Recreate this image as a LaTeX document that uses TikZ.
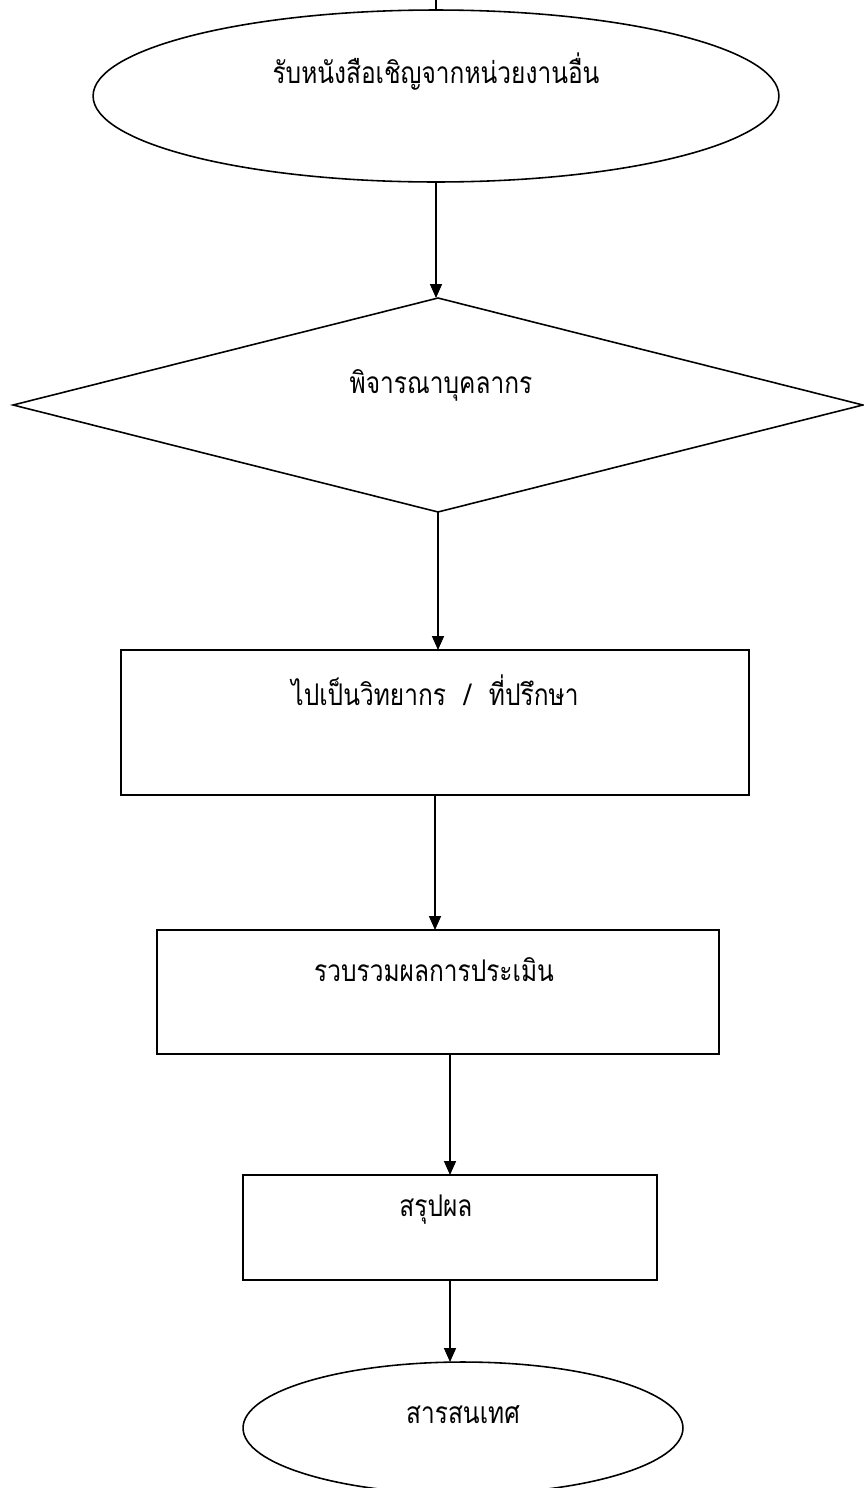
\documentclass[tikz,border=0pt]{standalone}
\usepackage{fontspec}
\newfontfamily\thaifont[Script=Thai,FakeStretch=0.82]{Loma}
\usetikzlibrary{shapes.geometric,arrows.meta,positioning,calc}

\begin{document}
\begin{tikzpicture}[x=0.02cm, y=-0.02cm,
    shapeline/.style={draw, line width=0.9pt, inner sep=0pt, outer sep=0pt},
    stepbox/.style={shapeline, rectangle},
    endcap/.style={shapeline, ellipse},
    choice/.style={shapeline, diamond},
    thaitext/.style={font=\thaifont\fontsize{17}{20}\selectfont},
    flow/.style={line width=0.9pt, -{Triangle[length=0.28cm, width=0.24cm]}}]

    \useasboundingbox (0,0) rectangle (864,1488);

    % shapes
    \node[endcap, minimum width=13.72cm, minimum height=3.44cm] (start) at (436,96) {};
    \node[choice, minimum width=17cm, minimum height=4.28cm] (check) at (438,405) {};
    \node[stepbox, minimum width=12.56cm, minimum height=2.9cm] (go) at (435,722.5) {};
    \node[stepbox, minimum width=11.24cm, minimum height=2.48cm] (collect) at (438,992) {};
    \node[stepbox, minimum width=8.28cm, minimum height=2.1cm] (sum) at (450,1227.5) {};
    \node[endcap, minimum width=8.8cm, minimum height=2.64cm] (info) at (463,1428) {};

    % texts
    \node[thaitext] (startT) at (436,72) {รับหนังสือเชิญจากหน่วยงานอื่น};
    \node[thaitext] (checkT) at (441,385) {พิจารณาบุคลากร};
    \node[thaitext] (goT) at (435,690) {ไปเป็นวิทยากร\hspace{0.6em}/\hspace{0.6em}ที่ปรึกษา};
    \node[thaitext] (collectT) at (434,970) {รวบรวมผลการประเมิน};
    \node[thaitext] (sumT) at (436,1210) {สรุปผล};
    \node[thaitext] (infoT) at (463,1415) {สารสนเทศ};

    % connectors
    \path (start.north) ++(0,-10) coordinate (topend);
    \draw[line width=0.9pt] (start.north) -- (topend);
    \draw[flow] (start.south) -- (start.south |- check.north);
    \draw[flow] (check.south) -- (check.south |- go.north);
    \draw[flow] (go.south) -- (go.south |- collect.north);
    \draw[flow] (collect.south -| sum) -- (sum.north);
    \draw[flow] (sum.south) -- (sum.south |- info.north);
\end{tikzpicture}
\end{document}
